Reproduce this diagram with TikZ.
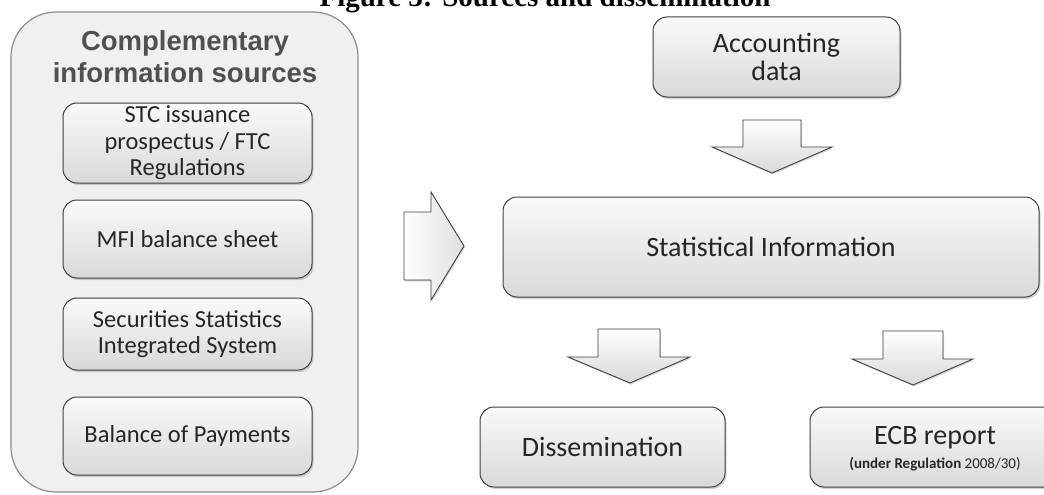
\documentclass[tikz,border=0pt]{standalone}
\usepackage{fontspec}
\setmainfont{Carlito}
\newfontfamily\headfont{Liberation Sans}
\newfontfamily\capfont{Liberation Serif}
\usetikzlibrary{shadows}
\definecolor{boxline}{HTML}{404040}
\definecolor{outerfill}{HTML}{F0F0F0}
\definecolor{outerline}{HTML}{8C8C8C}
\definecolor{headtext}{HTML}{505050}
\begin{document}
\begin{tikzpicture}[x=1pt,y=-1pt,
  box/.style={draw=boxline, line width=1pt, rounded corners=14pt,
    top color=gray!4, bottom color=gray!30,
    drop shadow={opacity=0.35, shadow xshift=1.5pt, shadow yshift=-2pt},
    align=center, inner sep=0pt, text=black!85},
  lbox/.style={box, minimum width=249pt, font=\fontsize{24.5}{26.5}\selectfont},
  rbox/.style={box, font=\fontsize{28}{28}\selectfont},
  blockarrow/.style={draw=black!75, line width=0.9pt, top color=white, bottom color=gray!30,
    drop shadow={opacity=0.3, shadow xshift=1pt, shadow yshift=-1.5pt}},
  sidearrow/.style={draw=black!75, line width=0.9pt, left color=white, right color=gray!25,
    drop shadow={opacity=0.3, shadow xshift=1pt, shadow yshift=-1.5pt}}
]
\clip (0,0) rectangle (1044,495);
\fill[white] (0,0) rectangle (1044,495);

% figure title (cut at the top)
\node[font=\capfont\bfseries\fontsize{29}{32}\selectfont, anchor=base, inner sep=0pt] (figtitle) at (545,7) {Figure 3: Sources and dissemination};

% outer container
\node[draw=outerline, line width=1.2pt, fill=outerfill, rounded corners=45pt,
      minimum width=347pt, minimum height=480pt, inner sep=0pt] (comp) at (184.5,252) {};
\node[font=\headfont\bfseries\fontsize{27.5}{32}\selectfont, text=headtext, align=center, inner sep=0pt] (comptitle) at (185,57) {Complementary\\information sources};

\node[lbox, minimum height=80pt] (stc) at (187.5,143) {STC issuance\\prospectus / FTC\\Regulations};
\node[lbox, minimum height=78pt] (mfi) at (187.5,239) {MFI balance sheet};
\node[lbox, minimum height=72pt] (sec) at (187.5,334) {Securities Statistics\\Integrated System};
\node[lbox, minimum height=78pt] (bop) at (187.5,436) {Balance of Payments};

% right side
\node[rbox, minimum width=247pt, minimum height=80pt] (acc) at (776.5,57) {Accounting\\data};
\node[rbox, minimum width=536pt, minimum height=100pt] (stat) at (771,247) {Statistical Information};
\node[rbox, minimum width=245pt, minimum height=80pt] (diss) at (602.5,447) {Dissemination};
\node[rbox, minimum width=250pt, minimum height=80pt, text depth=0pt] (ecb) at (935,447) {ECB report\\[-4pt]{\fontsize{15}{17}\selectfont\bfseries (under Regulation \mdseries 2008/30)}};

% block arrows
\path[sidearrow] (404,212) -- (431,212) -- (431,192) -- (464,246) -- (431,300) -- (431,280) -- (404,280) -- cycle;
\path[blockarrow] (743,120) -- (801,120) -- (801,147) -- (832,147) -- (772,173) -- (712,147) -- (743,147) -- cycle;
\path[blockarrow] (598,329) -- (660,329) -- (660,357) -- (690,357) -- (630,383) -- (568,357) -- (598,357) -- cycle;
\path[blockarrow] (883,331) -- (943,331) -- (943,359) -- (973,359) -- (913,385) -- (852,359) -- (883,359) -- cycle;
\end{tikzpicture}
\end{document}
